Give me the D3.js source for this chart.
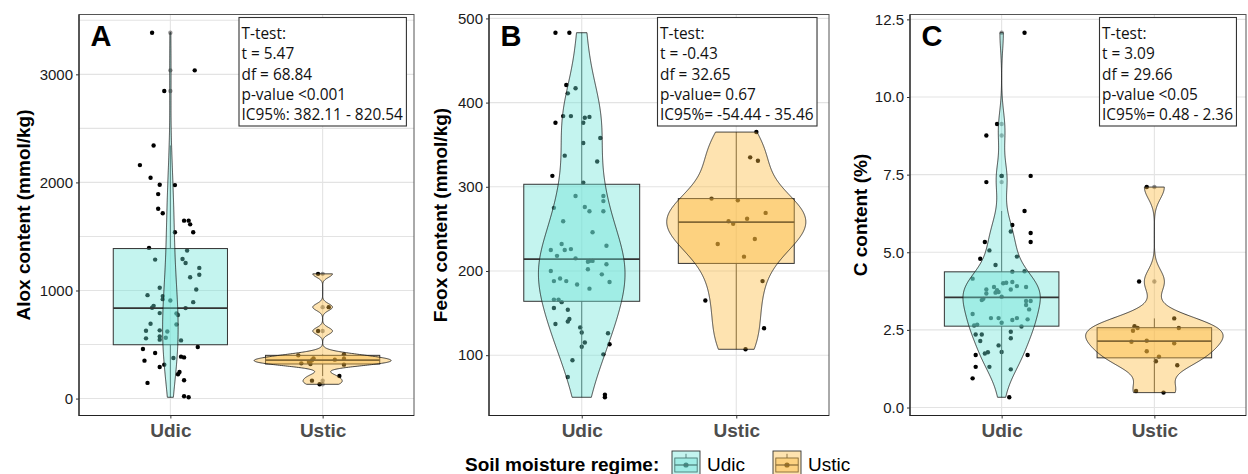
<!DOCTYPE html>
<html>
<head>
<meta charset="utf-8">
<script src="https://cdn.jsdelivr.net/npm/d3@7"></script>
<style>
  body { margin: 0; background: #fff; }
  svg { display: block; }
</style>
</head>
<body>
<svg id="chart" width="1248" height="474"></svg>
<script>
// ---- data -------------------------------------------------------------
const regimes = ["Udic", "Ustic"];

// samples: [value, horizontal jitter in category units]
const aloxUdic = [[3385,-0.12],[3037,0.16],[2846,-0.04],[2342,-0.11],[2160,-0.20],[2043,-0.13],[1978,-0.07],[1975,0.03],[1892,-0.08],[1757,-0.08],[1714,-0.05],[1646,0.09],[1646,0.12],[1612,0.13],[1539,0.03],[1539,0.15],[1394,-0.14],[1369,0.11],[1286,-0.10],[1292,0.08],[1255,0.10],[1209,0.19],[1145,0.19],[1123,0.13],[1009,0.17],[1025,-0.07],[957,-0.15],[948,-0.05],[908,0.00],[920,-0.05],[892,0.15],[858,-0.11],[840,-0.12],[837,0.10],[791,-0.07],[788,0.04],[773,0.05],[692,-0.13],[686,0.04],[628,-0.16],[631,-0.07],[621,-0.02],[575,-0.07],[557,-0.16],[545,-0.07],[563,-0.03],[538,0.07],[477,0.18],[459,-0.18],[422,-0.10],[351,-0.17],[376,0.02],[388,0.07],[381,0.09],[314,-0.04],[292,-0.07],[246,0.06],[225,0.05],[169,0.09],[145,-0.15],[21,0.09],[12,0.12]];
const aloxUstic = [[1154,-0.03],[846,0.04],[625,-0.03],[400,-0.16],[372,-0.06],[354,-0.07],[409,0.14],[369,0.14],[360,0.08],[326,-0.14],[320,-0.08],[339,-0.09],[314,0.14],[209,0.11],[166,-0.07],[132,-0.02]];

const feoxUdic = [[483,-0.17],[483,-0.08],[421,-0.10],[417,-0.04],[411,-0.09],[384,-0.12],[384,-0.07],[382,0.02],[383,0.05],[376,0.01],[376,-0.17],[358,0.12],[352,0.01],[337,-0.11],[330,0.10],[313,-0.19],[305,0.01],[289,-0.04],[289,0.14],[283,0.14],[275,-0.18],[276,0.02],[271,0.05],[271,0.14],[259,-0.12],[246,0.07],[232,-0.13],[230,0.16],[225,-0.20],[225,-0.11],[226,-0.07],[218,-0.16],[215,-0.04],[211,0.04],[212,0.05],[212,0.07],[208,0.16],[200,-0.20],[202,0.04],[196,0.13],[191,-0.14],[188,-0.18],[188,-0.10],[187,0.18],[184,-0.03],[179,0.05],[166,-0.18],[166,-0.15],[163,-0.13],[156,-0.18],[154,-0.09],[143,-0.08],[140,-0.09],[137,-0.17],[133,-0.01],[127,0.00],[126,0.17],[115,0.02],[110,0.00],[113,0.18],[101,0.14],[94,-0.06],[74,-0.09],[53,0.15],[50,0.15]];
const feoxUstic = [[365,0.13],[335,0.09],[331,0.14],[286,-0.16],[284,0.01],[269,0.19],[262,0.07],[259,-0.05],[256,-0.02],[238,0.12],[232,-0.12],[217,0.05],[188,0.17],[165,-0.20],[132,0.18],[107,0.06]];

const carbonUdic = [[12.07,0.15],[9.13,-0.03],[8.76,-0.10],[7.46,0.00],[7.46,0.19],[7.26,-0.10],[6.33,0.15],[5.88,0.07],[5.67,0.06],[5.62,0.19],[5.33,0.19],[5.33,-0.11],[5.06,-0.08],[4.79,-0.14],[4.86,0.10],[4.59,-0.04],[4.37,0.07],[4.39,0.15],[4.15,-0.19],[4.02,0.03],[4.00,0.01],[4.04,0.07],[3.91,0.10],[3.88,0.16],[3.80,-0.10],[3.88,-0.05],[3.78,-0.03],[3.70,-0.04],[3.72,-0.02],[3.67,-0.10],[3.80,0.06],[3.46,-0.13],[3.50,-0.12],[3.57,0.00],[3.43,0.16],[3.43,0.19],[3.30,0.16],[3.16,0.18],[3.01,-0.19],[2.88,-0.07],[2.88,-0.02],[2.82,0.07],[2.88,0.10],[2.84,0.17],[2.61,0.13],[2.73,0.00],[2.64,-0.18],[2.67,-0.16],[2.44,0.06],[2.35,-0.17],[2.35,-0.13],[2.23,0.06],[2.14,-0.14],[2.00,-0.02],[1.79,0.00],[1.74,-0.11],[1.78,-0.09],[1.69,-0.17],[1.69,0.17],[1.31,-0.17],[1.31,-0.08],[1.23,0.06],[0.94,-0.19],[0.33,0.05]];
const carbonUstic = [[7.10,-0.05],[4.06,-0.10],[2.87,0.13],[2.62,-0.13],[2.56,-0.11],[2.56,0.16],[2.47,-0.14],[2.12,-0.15],[2.15,-0.05],[2.07,0.13],[1.81,-0.05],[1.64,0.03],[1.49,0.01],[1.36,0.15],[0.53,-0.12],[0.48,0.06]];

// box statistics per regime: [Q1, median, Q3]
const aloxBox = [[498, 837, 1388], [320, 355, 400]];
const feoxBox = [[164, 214, 303], [209, 258, 286]];
const carbonBox = [[2.62, 3.55, 4.37], [1.60, 2.14, 2.57]];

// axis ticks and grid lines
const aloxTicks = [0, 1000, 2000, 3000];
const aloxGrid = [0, 500, 1000, 1500, 2000, 2500, 3000, 3500];
const feoxTicks = [100, 200, 300, 400, 500];
const carbonTicks = [0, 2.5, 5, 7.5, 10, 12.5];

// Welch t-test summaries
const aloxStats = ["T-test:", "t = 5.47", "df = 68.84", "p-value <0.001", "IC95%: 382.11 - 820.54"];
const feoxStats = ["T-test:", "t = -0.43", "df = 32.65", "p-value= 0.67", "IC95%= -54.44 - 35.46"];
const carbonStats = ["T-test:", "t = 3.09", "df = 29.66", "p-value <0.05", "IC95%= 0.48 - 2.36"];

const fills = ["#6be3d7", "#fcb939"];
const fillAlpha = 0.4;

// ---- layout -----------------------------------------------------------
const svg = d3.select("#chart");
const plotTop = 14.5, plotBottom = 415.5;
const fontMain = "'Liberation Sans', Arial, sans-serif";
const fontNote = "'Open Sans', 'Noto Sans', sans-serif";

const panels = [
  { tag: "A", left: 79, right: 414, title: "Alox content (mmol/kg)", titleX: 30,
    groups: [aloxUdic, aloxUstic], boxes: aloxBox, ticks: aloxTicks, grid: aloxGrid,
    fmt: d3.format("d"), stats: aloxStats, statsX: 239 },
  { tag: "B", left: 489, right: 829, title: "Feox content (mmol/kg)", titleX: 447,
    groups: [feoxUdic, feoxUstic], boxes: feoxBox, ticks: feoxTicks, grid: feoxTicks,
    fmt: d3.format("d"), stats: feoxStats, statsX: 657.5 },
  { tag: "C", left: 910, right: 1246, title: "C content (%)", titleX: 867,
    groups: [carbonUdic, carbonUstic], boxes: carbonBox, ticks: carbonTicks, grid: carbonTicks,
    fmt: d3.format(".1f"), stats: carbonStats, statsX: 1099.5 }
];

// Gaussian KDE with R's bw.nrd0 bandwidth, trimmed to the data range
function density(values) {
  const s = values.slice().sort(d3.ascending);
  const n = s.length;
  const iqr = d3.quantile(s, 0.75) - d3.quantile(s, 0.25);
  const bw = 0.9 * Math.min(d3.deviation(s), iqr / 1.34) * Math.pow(n, -0.2);
  const lo = s[0], hi = s[n - 1];
  const k = u => Math.exp(-0.5 * u * u) / Math.sqrt(2 * Math.PI);
  return d3.range(512).map(i => {
    const v = lo + (hi - lo) * i / 511;
    return { v, d: d3.sum(s, x => k((v - x) / bw)) / (n * bw) };
  });
}

panels.forEach(p => {
  const g = svg.append("g");
  const x = d3.scalePoint().domain(regimes).range([p.left, p.right]).padding(0.6);
  const step = x.step();

  const allVals = p.groups.flat().map(d => d[0]);
  const [mn, mx] = d3.extent(allVals);
  const pad = (mx - mn) * 0.05;
  const y = d3.scaleLinear().domain([mn - pad, mx + pad]).range([plotBottom, plotTop]);

  // grid
  g.append("g").selectAll("line").data(p.grid).join("line")
    .attr("x1", p.left).attr("x2", p.right)
    .attr("y1", d => y(d)).attr("y2", d => y(d))
    .attr("stroke", "#e3e3e3").attr("stroke-width", 1.1);
  g.append("g").selectAll("line").data(regimes).join("line")
    .attr("x1", d => x(d)).attr("x2", d => x(d))
    .attr("y1", plotTop).attr("y2", plotBottom)
    .attr("stroke", "#e3e3e3").attr("stroke-width", 1.1);

  // jittered samples
  p.groups.forEach((grp, gi) => {
    g.append("g").selectAll("circle").data(grp).join("circle")
      .attr("cx", d => x(regimes[gi]) + d[1] * step)
      .attr("cy", d => y(d[0]))
      .attr("r", 2.2)
      .attr("fill", "#000");
  });

  // boxplots
  p.groups.forEach((grp, gi) => {
    const vals = grp.map(d => d[0]);
    const [q1, med, q3] = p.boxes[gi];
    const iqr = q3 - q1;
    const inFence = vals.filter(v => v >= q1 - 1.5 * iqr && v <= q3 + 1.5 * iqr);
    const outliers = vals.filter(v => v < q1 - 1.5 * iqr || v > q3 + 1.5 * iqr);
    const cx = x(regimes[gi]);
    const hw = 0.375 * step;
    const bg = g.append("g");
    bg.append("line").attr("x1", cx).attr("x2", cx)
      .attr("y1", y(q3)).attr("y2", y(d3.max(inFence)))
      .attr("stroke", "#333").attr("stroke-width", 0.9);
    bg.append("line").attr("x1", cx).attr("x2", cx)
      .attr("y1", y(q1)).attr("y2", y(d3.min(inFence)))
      .attr("stroke", "#333").attr("stroke-width", 0.9);
    bg.append("rect")
      .attr("x", cx - hw).attr("width", 2 * hw)
      .attr("y", y(q3)).attr("height", y(q1) - y(q3))
      .attr("fill", fills[gi]).attr("fill-opacity", fillAlpha)
      .attr("stroke", "#333").attr("stroke-width", 1);
    bg.append("line").attr("x1", cx - hw).attr("x2", cx + hw)
      .attr("y1", y(med)).attr("y2", y(med))
      .attr("stroke", "#333").attr("stroke-width", 1.7);
    bg.selectAll("circle").data(outliers).join("circle")
      .attr("cx", cx).attr("cy", d => y(d)).attr("r", 2.2)
      .attr("fill", "#000").attr("fill-opacity", fillAlpha);
  });

  // violins, area-scaled across the panel
  const dens = p.groups.map(grp => density(grp.map(d => d[0])));
  const maxD = d3.max(dens.flat(), d => d.d);
  dens.forEach((dd, gi) => {
    const cx = x(regimes[gi]);
    const area = d3.area()
      .y(d => y(d.v))
      .x0(d => cx - 0.45 * step * d.d / maxD)
      .x1(d => cx + 0.45 * step * d.d / maxD);
    g.append("path").datum(dd).attr("d", area)
      .attr("fill", fills[gi]).attr("fill-opacity", fillAlpha)
      .attr("stroke", "#1a1a1a").attr("stroke-width", 0.8)
      .attr("stroke-linejoin", "round");
  });

  // panel frame
  g.append("rect").attr("x", p.left).attr("y", plotTop)
    .attr("width", p.right - p.left).attr("height", plotBottom - plotTop)
    .attr("fill", "none").attr("stroke", "#555").attr("stroke-width", 1);
  g.append("path")
    .attr("d", `M${p.left},${plotTop}V${plotBottom}H${p.right}`)
    .attr("fill", "none").attr("stroke", "#222").attr("stroke-width", 1.2);

  // y axis
  const ya = g.append("g").attr("transform", `translate(${p.left},0)`)
    .call(d3.axisLeft(y).tickValues(p.ticks).tickFormat(p.fmt).tickSize(3).tickPadding(3));
  ya.select(".domain").remove();
  ya.selectAll(".tick line").attr("stroke", "#333");
  ya.selectAll(".tick text").attr("font-family", fontMain).attr("font-size", 15).attr("fill", "#1a1a1a");

  // x axis
  const xa = g.append("g").attr("transform", `translate(0,${plotBottom})`)
    .call(d3.axisBottom(x).tickSize(3).tickPadding(5));
  xa.select(".domain").remove();
  xa.selectAll(".tick line").attr("stroke", "#333");
  xa.selectAll(".tick text").attr("font-family", fontMain).attr("font-size", 19)
    .attr("font-weight", "bold").attr("fill", "#4d4d4d").attr("dy", "0.71em");

  // axis title
  g.append("text")
    .attr("transform", `translate(${p.titleX},${(plotTop + plotBottom) / 2}) rotate(-90)`)
    .attr("text-anchor", "middle")
    .attr("font-family", fontMain).attr("font-size", 19).attr("font-weight", "bold")
    .attr("fill", "#000").text(p.title);

  // panel tag
  g.append("text").attr("x", p.left + 11.5).attr("y", 45.5)
    .attr("font-family", fontMain).attr("font-size", 29).attr("font-weight", "bold")
    .attr("fill", "#000").text(p.tag);

  // t-test note
  const note = g.append("g");
  const nr = note.append("rect");
  const lines = note.selectAll("text").data(p.stats).join("text")
    .attr("x", p.statsX + 2.5).attr("y", (d, i) => 39 + i * 20.3)
    .attr("font-family", fontNote).attr("font-size", 15.4).attr("fill", "#111")
    .text(d => d);
  const w = d3.max(lines.nodes(), n => n.getComputedTextLength());
  nr.attr("x", p.statsX).attr("y", 17.5).attr("width", w + 6).attr("height", 108.5)
    .attr("fill", "#fff").attr("stroke", "#333").attr("stroke-width", 1.1);
});

// ---- legend ---------------------------------------------------------------
const lg = svg.append("g");
lg.append("text").attr("x", 465).attr("y", 471)
  .attr("font-family", fontMain).attr("font-size", 19).attr("font-weight", "bold")
  .attr("fill", "#000").text("Soil moisture regime:");
const keyX = [672, 773];
regimes.forEach((r, i) => {
  const kx = keyX[i], ky = 451, ks = 28;
  const k = lg.append("g");
  k.append("circle").attr("cx", kx + ks / 2).attr("cy", ky + ks / 2).attr("r", 2.6).attr("fill", "#000");
  k.append("line").attr("x1", kx + ks / 2).attr("x2", kx + ks / 2).attr("y1", ky + 2.8).attr("y2", ky + 7)
    .attr("stroke", "#333").attr("stroke-width", 0.9);
  k.append("rect").attr("x", kx + 2.8).attr("y", ky + 7).attr("width", ks - 5.6).attr("height", 14)
    .attr("fill", fills[i]).attr("fill-opacity", fillAlpha).attr("stroke", "#333").attr("stroke-width", 0.9);
  k.append("line").attr("x1", kx + 2.8).attr("x2", kx + ks - 2.8).attr("y1", ky + ks / 2).attr("y2", ky + ks / 2)
    .attr("stroke", "#333").attr("stroke-width", 1.2);
  k.append("rect").attr("x", kx).attr("y", ky).attr("width", ks).attr("height", ks)
    .attr("fill", fills[i]).attr("fill-opacity", fillAlpha).attr("stroke", "#333").attr("stroke-width", 0.9);
  lg.append("text").attr("x", kx + ks + 7).attr("y", 471)
    .attr("font-family", fontMain).attr("font-size", 19).attr("fill", "#000").text(r);
});
</script>
</body>
</html>
